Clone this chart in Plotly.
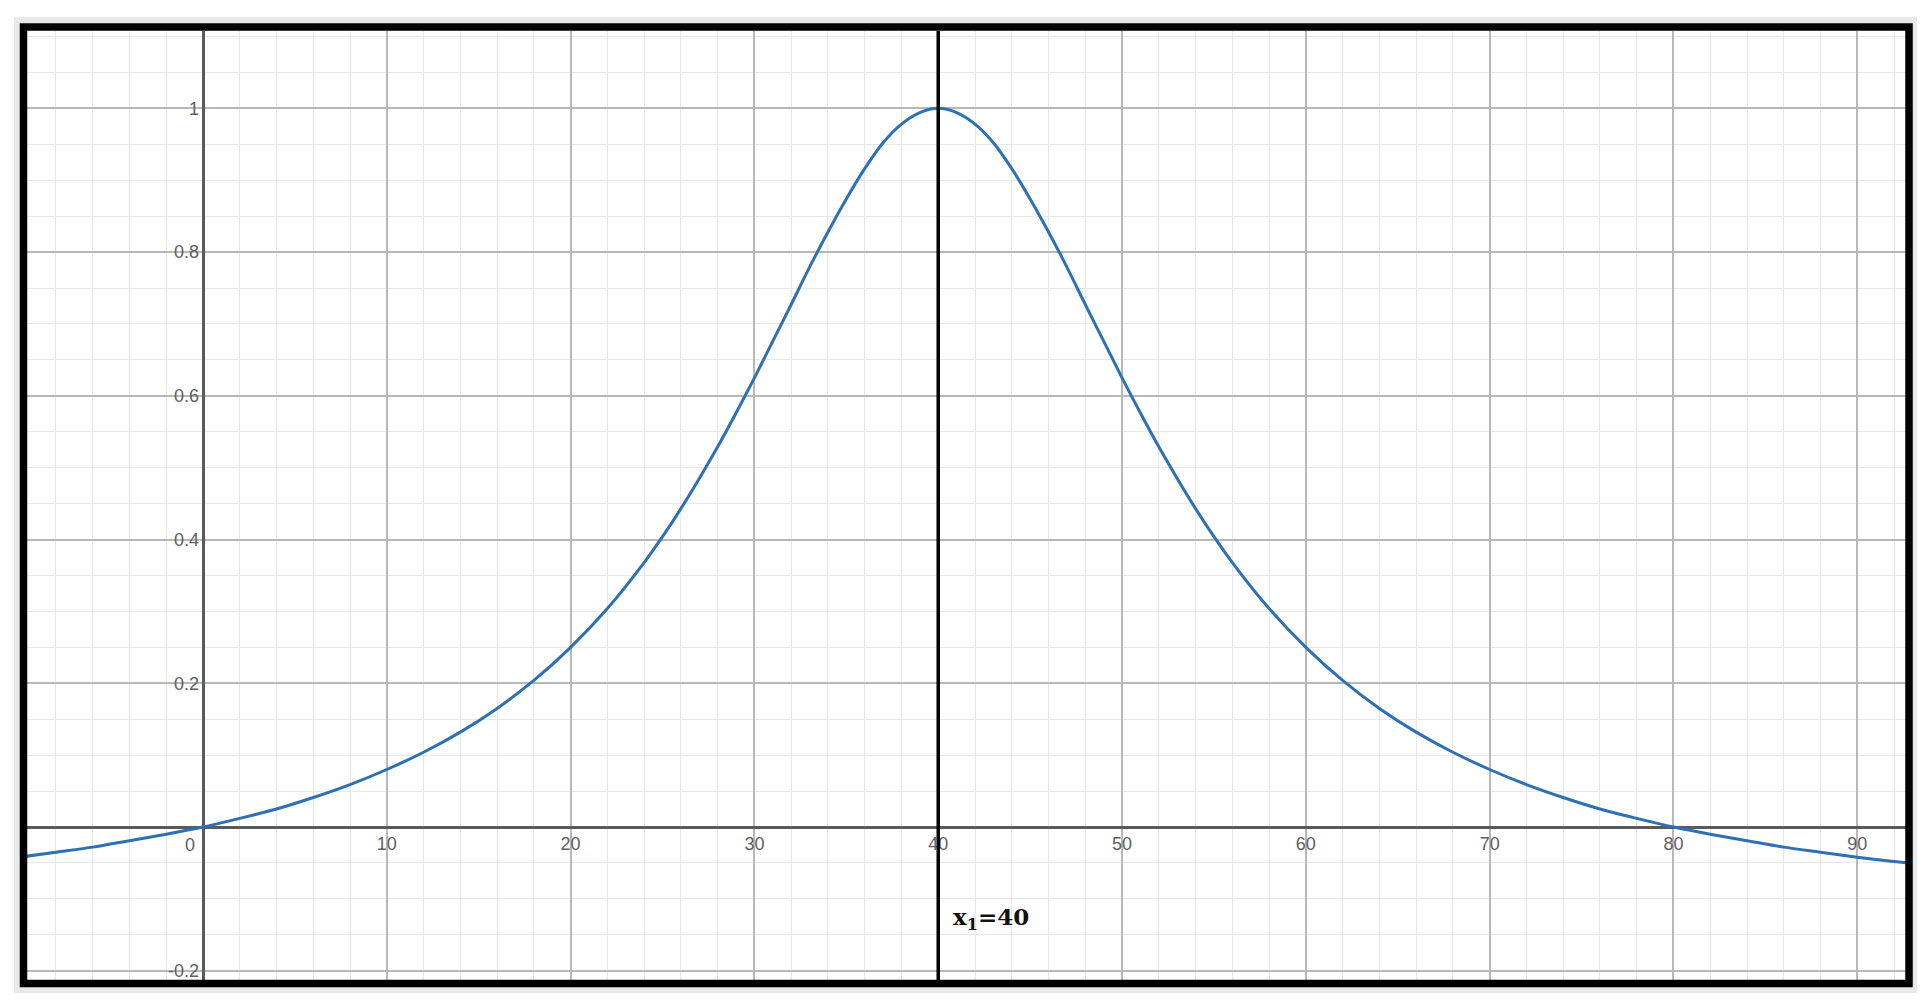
import plotly.graph_objects as go

# curve values
x_vals = [-10, -8, -6, -4, -2, 0, 2, 4, 6, 8, 10, 12, 14, 16, 18, 20, 22, 24, 25, 26,
          27, 28, 29, 30, 31, 32, 33, 34, 35, 36, 37, 38, 39, 40, 41, 42, 43, 44, 45,
          46, 47, 48, 49, 50, 51, 52, 53, 54, 55, 56, 58, 60, 62, 64, 66, 68, 70, 72,
          74, 76, 78, 80, 82, 84, 86, 88, 90, 92, 94]
y_vals = [-0.042, -0.035, -0.028, -0.019, -0.010, 0.000, 0.012, 0.025, 0.041, 0.059,
          0.080, 0.104, 0.132, 0.165, 0.204, 0.250, 0.304, 0.368, 0.404, 0.443,
          0.485, 0.529, 0.576, 0.625, 0.676, 0.727, 0.779, 0.828, 0.874, 0.916,
          0.952, 0.978, 0.994, 1.000, 0.994, 0.978, 0.952, 0.916, 0.874,
          0.828, 0.779, 0.727, 0.676, 0.625, 0.576, 0.529, 0.485, 0.443, 0.404,
          0.368, 0.304, 0.250, 0.204, 0.165, 0.132, 0.104, 0.080, 0.059,
          0.041, 0.025, 0.012, 0.000, -0.010, -0.019, -0.028, -0.035, -0.042,
          -0.048, -0.053]

x_ticks = [10, 20, 30, 40, 50, 60, 70, 80, 90]
y_ticks = [-0.2, 0.2, 0.4, 0.6, 0.8, 1]
y_tick_text = ['-0.2', '0.2', '0.4', '0.6', '0.8', '1']

x1 = 40
x1_label = '<b>x<sub>1</sub>=40</b>'

x_range = [-9.575, 92.65]
y_range = [-0.2129, 1.1076]

fig = go.Figure()
fig.add_trace(go.Scatter(x=x_vals, y=y_vals, mode='lines', line_shape='spline',
                         line=dict(color='#2d70b3', width=3, smoothing=0.8),
                         showlegend=False, hoverinfo='skip'))

# vertical marker line at x1
fig.add_shape(type='line', x0=x1, x1=x1, y0=0, y1=1, xref='x', yref='paper',
              line=dict(color='black', width=3.5))

fig.add_annotation(x=x1, y=-0.127, text=x1_label, showarrow=False,
                   xanchor='left', xshift=13,
                   font=dict(family='DejaVu Serif', size=23, color='#111111'))

# origin label sits below-left of the axes crossing
fig.add_annotation(x=0, y=0, text='0', showarrow=False, xanchor='right', yanchor='top',
                   xshift=-6, yshift=-6,
                   font=dict(family='Liberation Sans, Arial', size=18, color='#5f5f5f'))

# frame around the graph: light grey halo then thick black border
W, H = 1879.0, 949.0
def px(v):
    return (v - 27) / W
def py(v):
    return (980 - v) / H

fig.add_shape(type='rect', xref='paper', yref='paper',
              x0=px(17), x1=px(1914), y0=py(990), y1=py(20),
              line=dict(color='#e9e9e9', width=6), layer='above')
fig.add_shape(type='rect', xref='paper', yref='paper',
              x0=px(23.5), x1=px(1909), y0=py(983.5), y1=py(27),
              line=dict(color='black', width=7.5), layer='above')

grid_major = '#b8b8b8'
grid_minor = '#e8e8e8'
tick_font = dict(family='Liberation Sans, Arial', size=18, color='#5f5f5f')

fig.update_layout(
    width=1930, height=1008,
    margin=dict(l=27, r=24, t=31, b=28),
    paper_bgcolor='white', plot_bgcolor='white',
    xaxis=dict(range=x_range, tickmode='array', tickvals=x_ticks,
               ticktext=[str(v) for v in x_ticks],
               showgrid=True, gridcolor=grid_major, gridwidth=1.5,
               minor=dict(tickmode='linear', tick0=0, dtick=2, showgrid=True,
                          gridcolor=grid_minor, gridwidth=1),
               zeroline=True, zerolinecolor='#5a5a5a', zerolinewidth=2.5,
               showline=False, ticks='', tickfont=tick_font,
               anchor='free', position=(0 - y_range[0]) / (y_range[1] - y_range[0]),
               ticklabelstandoff=4, fixedrange=True),
    yaxis=dict(range=y_range, tickmode='array', tickvals=y_ticks, ticktext=y_tick_text,
               showgrid=True, gridcolor=grid_major, gridwidth=1.5,
               minor=dict(tickmode='linear', tick0=0, dtick=0.05, showgrid=True,
                          gridcolor=grid_minor, gridwidth=1),
               zeroline=True, zerolinecolor='#5a5a5a', zerolinewidth=2.5,
               showline=False, ticks='', tickfont=tick_font,
               anchor='free', position=(0 - x_range[0]) / (x_range[1] - x_range[0]),
               ticklabelstandoff=4, fixedrange=True),
)

fig.write_html("out.html", config={'displayModeBar': False},
               post_script="document.body.style.margin='0';document.body.style.overflow='hidden';")
